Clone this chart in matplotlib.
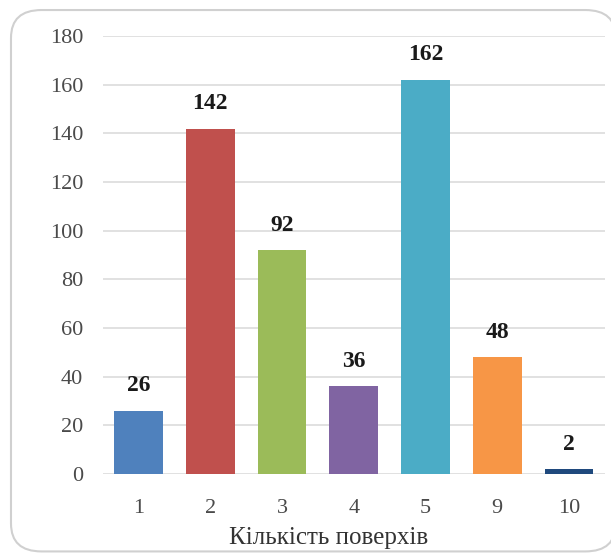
import matplotlib.pyplot as plt
from matplotlib.patches import FancyBboxPatch

# Number of floors per building and how many buildings have it
floors = ['1', '2', '3', '4', '5', '9', '10']
counts = [26, 142, 92, 36, 162, 48, 2]
colors = ['#4F81BD', '#C0504D', '#9BBB59', '#8064A2', '#4BACC6', '#F79646', '#1F497D']
y_ticks = [0, 20, 40, 60, 80, 100, 120, 140, 160, 180]

plt.rcParams['font.family'] = ['Liberation Serif', 'DejaVu Serif']

fig = plt.figure(figsize=(6.11, 5.57), dpi=100)

# Rounded chart frame, kept behind the axes
frame = FancyBboxPatch((0.018, 0.01), 0.99, 0.972,
                       boxstyle='round,pad=0,rounding_size=0.05',
                       transform=fig.transFigure, facecolor='white',
                       edgecolor='#d0d0d0', linewidth=1.5, zorder=-5)
fig.patches.append(frame)

ax = fig.add_axes([0.168, 0.149, 0.822, 0.786])
ax.set_facecolor('none')
ax.set_zorder(2)

x = range(len(floors))
ax.bar(x, counts, width=0.68, color=colors, zorder=3)

for xi, v in zip(x, counts):
    ax.text(xi, v + 6, str(v), ha='center', va='bottom',
            fontsize=17, fontweight='bold', color='#1a1a1a')

ax.set_xlim(-0.5, len(floors) - 0.5)
ax.set_ylim(0, 180)
ax.set_yticks(y_ticks)
ax.set_xticks(list(x))
ax.set_xticklabels(floors)
ax.tick_params(axis='both', length=0, labelsize=16, colors='#4a4a4a')
ax.tick_params(axis='y', pad=14)
ax.tick_params(axis='x', pad=18)
ax.grid(axis='y', color='#dcdcdc', linewidth=1.2, zorder=0)
for s in ax.spines.values():
    s.set_visible(False)

ax.set_xlabel('Кількість поверхів', fontsize=18, color='#333333')
ax.xaxis.set_label_coords(0.45, -0.122)

plt.savefig('out.png', dpi=100)
plt.close()
